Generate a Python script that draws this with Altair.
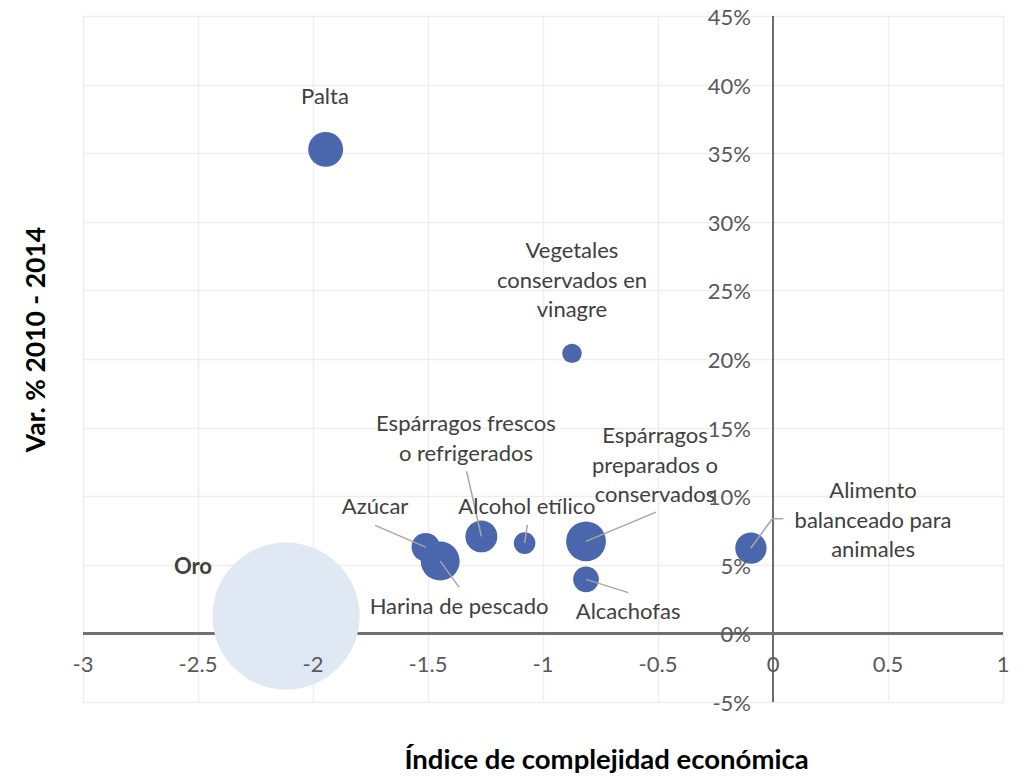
import altair as alt
import pandas as pd

# ---- data ----
productos = ["Oro", "Palta", "Vegetales conservados en vinagre", "Espárragos frescos o refrigerados",
             "Azúcar", "Harina de pescado", "Alcohol etílico", "Espárragos preparados o conservados",
             "Alcachofas", "Alimento balanceado para animales"]
complejidad = [-2.117, -1.945, -0.874, -1.268, -1.510, -1.447, -1.080, -0.813, -0.813, -0.096]
variacion = [0.0126, 0.3528, 0.2041, 0.0707, 0.0629, 0.0527, 0.0658, 0.0671, 0.0394, 0.0622]
peso = [6889, 388, 121, 324, 256, 484, 149, 506, 210, 313]
grupo = ["oro", "otros", "otros", "otros", "otros", "otros", "otros", "otros", "otros", "otros"]

# label texts and anchors (anchor = first line)
etiquetas = ["Oro", "Palta", "Vegetales\nconservados en\nvinagre", "Espárragos frescos\no refrigerados",
             "Azúcar", "Harina de pescado", "Alcohol etílico", "Espárragos\npreparados o\nconservados",
             "Alcachofas", "Alimento\nbalanceado para\nanimales"]
etiqueta_x = [-2.522, -1.948, -0.874, -1.335, -1.730, -1.365, -1.070, -0.513, -0.630, 0.435]
etiqueta_y = [0.0481, 0.3907, 0.2784, 0.1523, 0.0918, 0.0190, 0.0918, 0.1436, 0.0153, 0.1035]
negrita = ["bold", "normal", "normal", "normal", "normal", "normal", "normal", "normal", "normal", "normal"]

# leader lines (segments)
guia_x1 = [-1.730, -1.447, -1.332, -1.068, -0.509, -0.813, -0.096, -0.003]
guia_y1 = [0.0787, 0.0527, 0.1181, 0.0792, 0.0884, 0.0394, 0.0622, 0.0836]
guia_x2 = [-1.510, -1.365, -1.268, -1.080, -0.813, -0.629, -0.003, 0.045]
guia_y2 = [0.0629, 0.0337, 0.0707, 0.0658, 0.0671, 0.0297, 0.0836, 0.0836]

x_ticks = [-3, -2.5, -2, -1.5, -1, -0.5, 0, 0.5, 1]
x_tick_labels = ["-3", "-2.5", "-2", "-1.5", "-1", "-0.5", "0", "0.5", "1"]
y_ticks = [-0.05, 0, 0.05, 0.10, 0.15, 0.20, 0.25, 0.30, 0.35, 0.40, 0.45]
y_tick_labels = ["-5%", "0%", "5%", "10%", "15%", "20%", "25%", "30%", "35%", "40%", "45%"]

FONT = "Lato"

burbujas = pd.DataFrame({"producto": productos, "x": complejidad, "y": variacion,
                         "peso": peso, "grupo": grupo})
labels = pd.DataFrame({"texto": etiquetas, "x": etiqueta_x, "y": etiqueta_y, "peso_f": negrita})
guias = pd.DataFrame({"x1": guia_x1, "y1": guia_y1, "x2": guia_x2, "y2": guia_y2})
xt = pd.DataFrame({"v": x_ticks, "t": x_tick_labels})
yt = pd.DataFrame({"v": y_ticks, "t": y_tick_labels})

xscale = alt.Scale(domain=[-3, 1], nice=False, zero=False)
yscale = alt.Scale(domain=[-0.05, 0.45], nice=False, zero=False)

xaxis = alt.Axis(values=x_ticks, grid=True, gridColor="#eeeeee", gridWidth=1.5, labels=False,
                 ticks=False, domain=False, title="Índice de complejidad económica",
                 titleFont=FONT, titleFontSize=27.5, titleFontWeight="bold", titleColor="#000000",
                 titlePadding=44, titleX=523, titleAlign="center")
yaxis = alt.Axis(values=y_ticks, grid=True, gridColor="#eeeeee", gridWidth=1.5, labels=False,
                 ticks=False, domain=False, title="Var. % 2010 - 2014",
                 titleFont=FONT, titleFontSize=26.5, titleFontWeight="bold", titleColor="#000000",
                 titlePadding=33, titleY=323, titleAlign="center")

base_x = alt.X("x:Q", scale=xscale, axis=xaxis)
base_y = alt.Y("y:Q", scale=yscale, axis=yaxis)

# zero axis lines
eje_v = alt.Chart(burbujas).mark_rule(color="#6e6e6e", strokeWidth=1.5).encode(
    x=alt.datum(0, scale=xscale))
eje_h = alt.Chart(burbujas).mark_rule(color="#6e6e6e", strokeWidth=1.5).encode(
    y=alt.datum(0, scale=yscale))

puntos = alt.Chart(burbujas).mark_circle(opacity=1).encode(
    x=base_x, y=base_y,
    size=alt.Size("peso:Q", scale=alt.Scale(domain=[0, 6889], range=[0, 21642]), legend=None),
    color=alt.Color("grupo:N", scale=alt.Scale(domain=["oro", "otros"], range=["#dfe8f3", "#4a66ac"]),
                    legend=None),
    order=alt.Order("peso:Q", sort="descending"),
)

lineas = alt.Chart(guias).mark_rule(color="#a6a6a6", strokeWidth=1.5).encode(
    x=alt.X("x1:Q", scale=xscale), y=alt.Y("y1:Q", scale=yscale),
    x2="x2:Q", y2="y2:Q")

textos_n = alt.Chart(labels).transform_filter(alt.datum.peso_f == "normal").mark_text(
    font=FONT, fontSize=22, color="#404040", lineBreak="\n", lineHeight=29.5,
    align="center", baseline="middle").encode(
    x=alt.X("x:Q", scale=xscale), y=alt.Y("y:Q", scale=yscale), text="texto:N")
textos_b = alt.Chart(labels).transform_filter(alt.datum.peso_f == "bold").mark_text(
    font=FONT, fontSize=22, color="#404040", fontWeight="bold",
    align="center", baseline="middle").encode(
    x=alt.X("x:Q", scale=xscale), y=alt.Y("y:Q", scale=yscale), text="texto:N")

xlab = alt.Chart(xt).mark_text(font=FONT, fontSize=22, color="#595959", align="center",
                               baseline="middle", dy=32).encode(
    x=alt.X("v:Q", scale=xscale), y=alt.datum(0, scale=yscale), text="t:N")
ylab = alt.Chart(yt).mark_text(font=FONT, fontSize=22, color="#595959", align="right",
                               baseline="middle", dx=-22, dy=2).encode(
    x=alt.datum(0, scale=xscale), y=alt.Y("v:Q", scale=yscale), text="t:N")

chart = alt.layer(eje_v, eje_h, puntos, lineas, textos_n, textos_b, xlab, ylab).properties(
    width=920, height=686,
    autosize=alt.AutoSizeParams(type="none"),
    padding={"left": 75, "top": 8, "right": 10, "bottom": 76},
).configure_view(stroke="#eeeeee", strokeWidth=1.5).configure(background="white")

chart.save("out.html", embed_options={"renderer": "svg", "actions": False})
